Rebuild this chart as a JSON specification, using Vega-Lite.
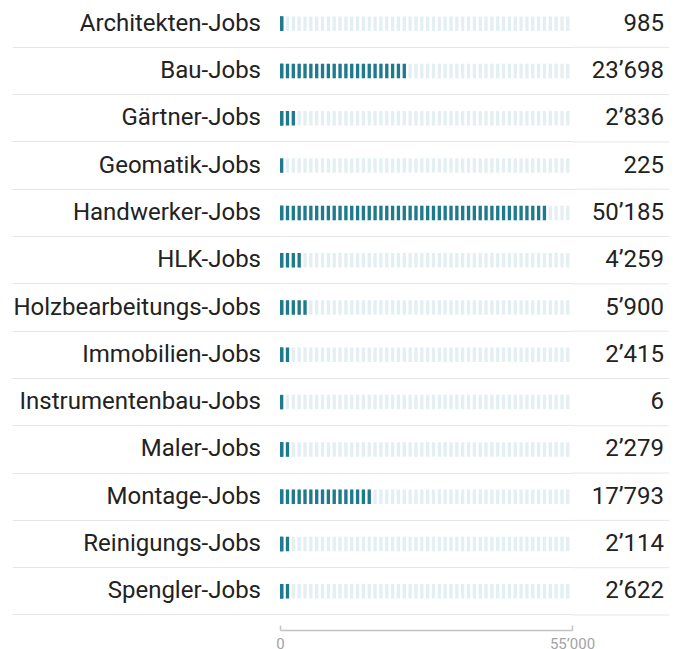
{
  "$schema": "https://vega.github.io/schema/vega-lite/v6.json",
  "width": 292,
  "height": 615,
  "autosize": {"type": "none"},
  "padding": {"left": 280, "top": 0, "right": 109, "bottom": 34},
  "config": {
    "view": {"stroke": null},
    "font": "Roboto"
  },
  "data": {
    "values": [
      {"job": "Architekten-Jobs", "value": 985},
      {"job": "Bau-Jobs", "value": 23698},
      {"job": "Gärtner-Jobs", "value": 2836},
      {"job": "Geomatik-Jobs", "value": 225},
      {"job": "Handwerker-Jobs", "value": 50185},
      {"job": "HLK-Jobs", "value": 4259},
      {"job": "Holzbearbeitungs-Jobs", "value": 5900},
      {"job": "Immobilien-Jobs", "value": 2415},
      {"job": "Instrumentenbau-Jobs", "value": 6},
      {"job": "Maler-Jobs", "value": 2279},
      {"job": "Montage-Jobs", "value": 17793},
      {"job": "Reinigungs-Jobs", "value": 2114},
      {"job": "Spengler-Jobs", "value": 2622}
    ]
  },
  "layer": [
    {
      "mark": {
        "type": "text", "align": "right", "baseline": "middle", "fontSize": 24, "font": "Roboto", "color": "#222222", "dx": 92,
        "text": {"expr": "replace(format(datum.value, ','), ',', '’')"}
      },
      "encoding": {
        "y": {
          "field": "job", "type": "nominal",
          "scale": {
            "domain": ["Architekten-Jobs", "Bau-Jobs", "Gärtner-Jobs", "Geomatik-Jobs", "Handwerker-Jobs", "HLK-Jobs", "Holzbearbeitungs-Jobs", "Immobilien-Jobs", "Instrumentenbau-Jobs", "Maler-Jobs", "Montage-Jobs", "Reinigungs-Jobs", "Spengler-Jobs"],
            "paddingInner": 0, "paddingOuter": 0
          },
          "axis": {
            "orient": "left", "title": null, "domain": false,
            "grid": true, "gridColor": "#e6e6e6", "gridWidth": 1,
            "ticks": true, "tickSize": 268, "tickColor": "#e6e6e6", "tickWidth": 1,
            "bandPosition": 1, "tickExtra": false,
            "labelPadding": -248.5, "labelFontSize": 24, "labelColor": "#222222", "labelFont": "Roboto",
            "labelLimit": 400, "labelAlign": "right", "labelBaseline": "middle"
          }
        },
        "x": {
          "datum": 55000, "type": "quantitative",
          "scale": {"domain": [0, 55000], "nice": false},
          "axis": {
            "values": [0, 55000], "title": null, "grid": false,
            "domain": true, "domainColor": "#c4c4c4", "domainWidth": 1.5,
            "ticks": true, "tickSize": -5, "tickColor": "#c4c4c4", "tickWidth": 1.5,
            "offset": 15, "labelFontSize": 15, "labelColor": "#a3a3a3", "labelFont": "Roboto",
            "labelPadding": 11, "labelFlush": false, "labelExpr": "replace(datum.label, ',', '’')"
          }
        }
      }
    },
    {
      "mark": {"type": "rule", "color": "#e3eff2", "strokeWidth": 14.5, "strokeDash": [3.3, 2.54], "strokeCap": "butt"},
      "encoding": {
        "y": {"field": "job", "type": "nominal"},
        "x": {"datum": 0, "type": "quantitative"},
        "x2": {"datum": 55000}
      }
    },
    {
      "mark": {"type": "rule", "color": "#e6e6e6", "strokeWidth": 1, "x2Offset": 97},
      "encoding": {
        "y": {"field": "job", "type": "nominal", "bandPosition": 1},
        "x": {"datum": 55000, "type": "quantitative"},
        "x2": {"datum": 55000}
      }
    },
    {
      "transform": [
        {"filter": {"field": "value", "gte": 550}},
        {"bin": {"step": 1100, "anchor": 550, "extent": [0, 55000]}, "field": "value", "as": ["b0", "b1"]}
      ],
      "mark": {"type": "rule", "color": "#1e7a8c", "strokeWidth": 14.5, "strokeDash": [3.3, 2.54], "strokeCap": "butt", "xOffset": 0.38},
      "encoding": {
        "y": {"field": "job", "type": "nominal"},
        "x": {"field": "b0", "type": "quantitative"},
        "x2": {"datum": 0}
      }
    },
    {
      "mark": {"type": "rule", "color": "#1e7a8c", "strokeWidth": 14.5, "strokeCap": "butt"},
      "encoding": {
        "y": {"field": "job", "type": "nominal"},
        "x": {"datum": 0, "type": "quantitative"},
        "x2": {"datum": 620}
      }
    }
  ]
}
